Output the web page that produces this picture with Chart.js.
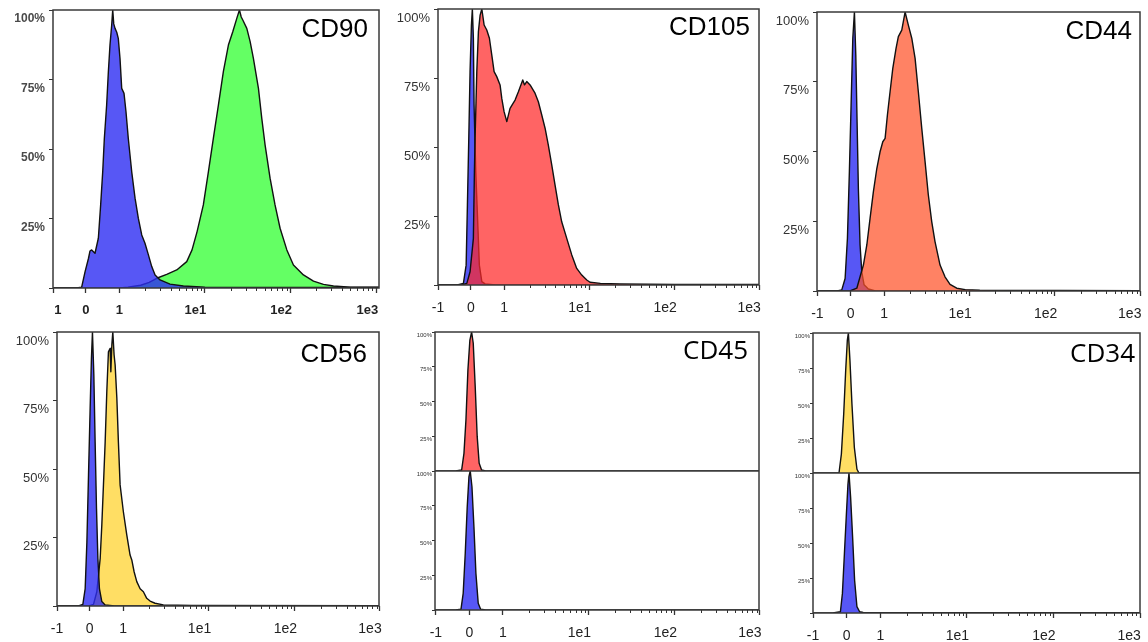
<!DOCTYPE html>
<html>
<head>
<meta charset="utf-8">
<script src="https://cdn.jsdelivr.net/npm/chart.js@4.4.1/dist/chart.umd.min.js"></script>
<style>
  body { margin: 0; background: #fff; }
  #figure { position: relative; width: 1148px; height: 642px; overflow: hidden; background: #fff; }
  #figure canvas { position: absolute; }
</style>
</head>
<body>
<div id="figure"></div>
<script>
// x is in decades of fluorescence (0 = 1, 1 = 1e1 ...), the part below 1 is the linear zone
const xTickLabels = ['-1', '0', '1', '1e1', '1e2', '1e3'];
const cd90TickLabels = ['1', '0', '1', '1e1', '1e2', '1e3'];
const xMajorTicks = [-0.78, -0.39, 0, 1, 2, 3];
const xLabelTicks = [-0.78, -0.39, 0, 0.89, 1.89, 2.875];
const cd90LabelTicks = [-0.717, -0.39, 0, 0.89, 1.89, 2.9];
const yTicks = [0, 25, 50, 75, 100];

// [channel, % of max]
const cd90Control = [[-0.78, 0], [-0.5, 0], [-0.44, 0.3], [-0.4, 5.9], [-0.36, 10.7], [-0.343, 13.3], [-0.323, 13.7],
  [-0.284, 12.5], [-0.245, 17.9], [-0.218, 29.9], [-0.194, 41.8], [-0.175, 53.8], [-0.148, 65.8], [-0.128, 77.8],
  [-0.109, 87.4], [-0.089, 94.6], [-0.077, 100], [-0.065, 95], [-0.05, 93.4], [-0.03, 92], [-0.012, 89.8],
  [0.008, 82.6], [0.028, 71.8], [0.055, 70], [0.078, 63.4], [0.105, 53.8], [0.145, 41.8], [0.184, 32.3],
  [0.222, 25.1], [0.262, 19.1], [0.3, 16.1], [0.34, 11.9], [0.379, 7.7], [0.418, 4.7], [0.476, 2.9],
  [0.593, 1.4], [0.749, 0.7], [1.0, 0.3], [3.04, 0.2]];
const cd90Positive = [[-0.78, 0], [0, 0], [0.1, 0.3], [0.25, 1], [0.35, 2], [0.437, 3.5], [0.554, 4.9], [0.671, 6.5],
  [0.788, 9.5], [0.85, 13.7], [0.909, 20.3], [0.982, 29.9], [1.041, 41.8], [1.099, 53.8], [1.158, 65.8],
  [1.216, 77.8], [1.275, 87.4], [1.326, 92.2], [1.373, 97], [1.404, 100], [1.425, 97.5], [1.443, 96.4],
  [1.49, 93.4], [1.529, 88.6], [1.567, 82.6], [1.626, 71.8], [1.665, 61], [1.704, 51.4], [1.762, 39.5],
  [1.82, 29.9], [1.879, 21.5], [1.958, 13.7], [2.035, 8.3], [2.152, 4.7], [2.269, 2.5], [2.386, 1.3],
  [2.503, 0.7], [2.7, 0.3], [3.04, 0.3]];

const cd105Control = [[-0.78, 0], [-0.55, 0], [-0.477, 0.6], [-0.445, 7.2], [-0.43, 29], [-0.414, 53.1],
  [-0.399, 77.3], [-0.383, 94.2], [-0.372, 100], [-0.36, 89.4], [-0.352, 65.2], [-0.332, 41], [-0.317, 29],
  [-0.29, 7.2], [-0.261, 1.2], [-0.223, 0.4], [-0.1, 0], [3, 0]];
const cd105Positive = [[-0.78, 0], [-0.5, 0], [-0.437, 0.6], [-0.399, 4.8], [-0.36, 16.9], [-0.348, 41],
  [-0.34, 53.2], [-0.32, 77.3], [-0.301, 91.8], [-0.281, 97.8], [-0.261, 100], [-0.234, 94.2], [-0.203, 92.4],
  [-0.172, 89.4], [-0.144, 83.3], [-0.117, 77.3], [-0.086, 75.5], [-0.047, 72.5], [-0.027, 67.6], [0, 62.8],
  [0.032, 59.2], [0.07, 64], [0.1, 65.5], [0.129, 67], [0.168, 70], [0.219, 74.3], [0.24, 72.5], [0.266, 73.7],
  [0.305, 72.5], [0.363, 69.5], [0.402, 66.4], [0.442, 61.6], [0.481, 56.8], [0.519, 50.7], [0.559, 43.5],
  [0.598, 36.2], [0.637, 29], [0.676, 22.9], [0.735, 16.9], [0.794, 10.9], [0.852, 6], [0.911, 3.6],
  [0.97, 1.8], [1.008, 1], [1.13, 0.6], [1.36, 0.4], [2, 0.2], [3, 0.2]];

const cd44Control = [[-0.79, 0], [-0.55, 0], [-0.495, 0.4], [-0.456, 4.5], [-0.429, 18.8], [-0.406, 42.8],
  [-0.386, 66.7], [-0.366, 90.6], [-0.347, 100], [-0.331, 84.6], [-0.316, 60.7], [-0.301, 36.8],
  [-0.281, 16.5], [-0.261, 6.9], [-0.234, 2.2], [-0.184, 0.7], [-0.1, 0], [3, 0]];
const cd44Positive = [[-0.79, 0], [-0.4, 0], [-0.319, 1], [-0.281, 5.1], [-0.242, 9.3], [-0.202, 16.5],
  [-0.164, 26], [-0.125, 35.6], [-0.085, 43.9], [-0.047, 49.9], [-0.015, 53.5], [0.012, 54.7], [0.039, 63.1],
  [0.07, 71.4], [0.102, 79.8], [0.14, 87], [0.167, 91.2], [0.207, 93.5], [0.246, 100], [0.284, 95.3],
  [0.324, 90.6], [0.363, 83.4], [0.401, 71.4], [0.441, 58.3], [0.48, 46.3], [0.518, 34.4], [0.558, 24.8],
  [0.596, 17.7], [0.655, 9.3], [0.713, 5.1], [0.772, 2.4], [0.85, 1], [0.95, 0.5], [1.12, 0.3], [3, 0.1]];

const cd56Control = [[-0.78, 0], [-0.52, 0], [-0.469, 0.6], [-0.442, 6.3], [-0.422, 23.3], [-0.403, 47.8],
  [-0.384, 72.1], [-0.369, 90.4], [-0.357, 100], [-0.341, 84.3], [-0.326, 59.9], [-0.31, 35.6],
  [-0.294, 17.4], [-0.276, 6.3], [-0.248, 1.6], [-0.209, 0.4], [-0.1, 0], [3, 0]];
const cd56Positive = [[-0.78, 0], [-0.4, 0], [-0.345, 0.6], [-0.306, 5.2], [-0.267, 17.4], [-0.248, 29.6],
  [-0.229, 44.2], [-0.209, 59.9], [-0.19, 78.2], [-0.171, 92.8], [-0.151, 94], [-0.143, 85.5], [-0.131, 95.4],
  [-0.12, 100], [-0.105, 91.6], [-0.093, 88], [-0.073, 75.8], [-0.055, 59.9], [-0.035, 44.2], [0.003, 34.4],
  [0.043, 25.9], [0.081, 18.6], [0.101, 16.8], [0.128, 12.5], [0.159, 8.9], [0.198, 6.3], [0.236, 5.2],
  [0.275, 2.8], [0.314, 1.8], [0.372, 1], [0.469, 0.4], [0.8, 0.2], [3, 0.1]];

const cd45Positive = [[-0.8, 0], [-0.55, 0], [-0.48, 0.7], [-0.453, 12.7], [-0.43, 36.7], [-0.407, 72.7],
  [-0.384, 94.2], [-0.364, 100], [-0.345, 91.9], [-0.322, 60.6], [-0.299, 24.7], [-0.276, 5.5],
  [-0.248, 0.7], [-0.2, 0], [3, 0]];
const cd45Control = [[-0.8, 0], [-0.55, 0], [-0.488, 0.5], [-0.462, 12], [-0.438, 40.8], [-0.415, 74.3],
  [-0.395, 95.9], [-0.38, 100], [-0.36, 88.7], [-0.337, 59.9], [-0.314, 26.4], [-0.287, 4.8],
  [-0.259, 0.5], [-0.2, 0], [3, 0]];

const cd34Positive = [[-0.78, 0], [-0.55, 0], [-0.479, 0.2], [-0.452, 13.5], [-0.425, 42.2], [-0.402, 73.4],
  [-0.383, 95], [-0.371, 100], [-0.353, 80.6], [-0.33, 49.4], [-0.302, 18.2], [-0.272, 2.7],
  [-0.249, 0], [3, 0]];
const cd34Control = [[-0.78, 0], [-0.55, 0], [-0.463, 0.9], [-0.44, 14], [-0.417, 42.3], [-0.394, 70.7],
  [-0.376, 92], [-0.364, 100], [-0.345, 82.5], [-0.322, 54.1], [-0.299, 23.4], [-0.272, 4.5],
  [-0.241, 0.9], [-0.2, 0.4], [3, 0.3]];

const BLUE = 'rgba(45,45,243,0.8)';
const GREEN = 'rgba(40,255,40,0.72)';
const RED = 'rgba(255,40,40,0.72)';
const ORANGE = 'rgba(255,82,40,0.72)';
const YELLOW = 'rgba(255,209,40,0.72)';
const FONT = '"Liberation Sans", Arial, sans-serif';
const MARGIN = { left: 50, right: 16, top: 14, bottom: 34 };

const looks = {
  bold:   { yFont: { family: FONT, size: 12, weight: 'bold' }, yColor: '#4a4a4a', yOffset: 9, yTick: 4, yPad: 4,
            xFont: { family: FONT, size: 13, weight: 'bold' } },
  normal: { yFont: { family: FONT, size: 13 }, yColor: '#333', yOffset: 9, yTick: 4, yPad: 4,
            xFont: { family: FONT, size: 14 } },
  small:  { yFont: { family: FONT, size: 6 }, yColor: '#333', yOffset: 3, yTick: 3, yPad: 0,
            xFont: { family: FONT, size: 14 } }
};

const panels = [
  { title: 'CD90', titleFont: '26px ' + FONT, titleRight: 11, titleBase: 27,
    plot: { x: 53, y: 10, w: 326, h: 278 }, range: [-0.775, 3.035], look: 'bold',
    tickLabels: cd90TickLabels, labelTicks: cd90LabelTicks,
    series: [{ data: cd90Control, color: BLUE }, { data: cd90Positive, color: GREEN }] },
  { title: 'CD105', titleFont: '26px ' + FONT, titleRight: 9, titleBase: 26,
    plot: { x: 438, y: 9, w: 321, h: 276 }, range: [-0.775, 2.99], look: 'normal',
    tickLabels: xTickLabels, labelTicks: xLabelTicks,
    series: [{ data: cd105Positive, color: RED }, { data: cd105Control, color: BLUE }] },
  { title: 'CD44', titleFont: '26px ' + FONT, titleRight: 8, titleBase: 27,
    plot: { x: 817, y: 12, w: 323, h: 279 }, range: [-0.785, 2.995], look: 'normal',
    tickLabels: xTickLabels, labelTicks: xLabelTicks,
    series: [{ data: cd44Positive, color: ORANGE }, { data: cd44Control, color: BLUE }] },
  { title: 'CD56', titleFont: '26px ' + FONT, titleRight: 12, titleBase: 30,
    plot: { x: 57, y: 332, w: 322, h: 274 }, range: [-0.77, 2.98], look: 'normal',
    tickLabels: xTickLabels, labelTicks: xLabelTicks,
    series: [{ data: cd56Control, color: BLUE }, { data: cd56Positive, color: YELLOW }] },
  { title: 'CD45', titleFont: '26px "Open Sans", sans-serif', titleRight: 11, titleBase: 27,
    plot: { x: 435, y: 332, w: 324, h: 278 }, range: [-0.79, 2.98], look: 'small', stacked: true,
    tickLabels: xTickLabels, labelTicks: xLabelTicks,
    series: [{ data: cd45Positive, color: RED, axis: 'yTop' }, { data: cd45Control, color: BLUE, axis: 'yBot' }] },
  { title: 'CD34', titleFont: '26px "Open Sans", sans-serif', titleRight: 5, titleBase: 29,
    plot: { x: 813, y: 333, w: 327, h: 280 }, range: [-0.78, 3.0], look: 'small', stacked: true,
    tickLabels: xTickLabels, labelTicks: xLabelTicks,
    series: [{ data: cd34Positive, color: YELLOW, axis: 'yTop' }, { data: cd34Control, color: BLUE, axis: 'yBot' }] }
];

// box around the plot, the divider of the stacked panels and the short log ticks
const framePlugin = {
  id: 'frame',
  afterDatasetsDraw(chart, args, opts) {
    const { ctx, chartArea: a } = chart;
    const x = chart.scales.x;
    ctx.save();
    ctx.strokeStyle = '#333';
    ctx.lineWidth = 1;
    ctx.beginPath();
    (opts.minor || []).forEach(v => {
      const px = Math.round(x.getPixelForValue(v)) + 0.5;
      ctx.moveTo(px, a.bottom);
      ctx.lineTo(px, a.bottom + 3);
    });
    ctx.stroke();
    ctx.strokeStyle = '#3a3a3a';
    ctx.lineWidth = 1.5;
    ctx.strokeRect(a.left, a.top, a.width, a.height);
    const { yTop, yBot } = chart.scales;
    if (yTop && yBot) {
      const y = Math.max(yTop.top, yBot.top);
      ctx.beginPath();
      ctx.moveTo(a.left, y);
      ctx.lineTo(a.right, y);
      ctx.stroke();
    }
    ctx.restore();
  }
};

const panelLabel = {
  id: 'panelLabel',
  afterDraw(chart, args, opts) {
    const { ctx, chartArea: a } = chart;
    ctx.save();
    ctx.font = opts.font;
    ctx.fillStyle = '#000';
    ctx.textAlign = 'right';
    ctx.textBaseline = 'alphabetic';
    ctx.fillText(opts.text, a.right - opts.right, a.top + opts.base);
    ctx.restore();
  }
};

function minorTicks(p) {
  const out = [];
  for (let d = 0; d < 3; d++) {
    for (let k = 2; k <= 9; k++) {
      const v = d + Math.log10(k);
      if (v < p.range[1]) out.push(v);
    }
  }
  return out;
}

function buildXTicks(p) {
  const [min, max] = p.range;
  const ticks = xMajorTicks.map(v => ({ value: Math.min(max, Math.max(min, v)), mark: true }));
  p.labelTicks.forEach((v, i) => {
    const pos = Math.max(min, v);
    const hit = ticks.find(t => Math.abs(t.value - pos) < 0.005);
    if (hit) hit.text = p.tickLabels[i];
    else ticks.push({ value: pos, mark: false, text: p.tickLabels[i] });
  });
  return ticks.sort((a, b) => a.value - b.value);
}

function yAxis(look, extra) {
  return Object.assign({
    type: 'linear', position: 'left', min: 0, max: 100,
    afterBuildTicks: s => { s.ticks = yTicks.map(v => ({ value: v })); },
    afterFit: s => { s.width = MARGIN.left; },
    border: { display: false },
    grid: { drawOnChartArea: false, tickLength: look.yTick, tickColor: '#333', tickWidth: 1 },
    ticks: { padding: look.yPad, labelOffset: look.yOffset, font: look.yFont, color: look.yColor,
             callback: v => v === 0 ? '' : v + '%' }
  }, extra);
}

const figure = document.getElementById('figure');

panels.forEach(p => {
  const look = looks[p.look];
  const canvas = document.createElement('canvas');
  canvas.width = p.plot.w + MARGIN.left + MARGIN.right;
  canvas.height = p.plot.h + MARGIN.top + MARGIN.bottom;
  canvas.style.left = (p.plot.x - MARGIN.left) + 'px';
  canvas.style.top = (p.plot.y - MARGIN.top) + 'px';
  figure.appendChild(canvas);

  const scales = {
    x: {
      type: 'linear', position: 'bottom', min: p.range[0], max: p.range[1],
      afterBuildTicks: s => { s.ticks = buildXTicks(p); },
      afterFit: s => { s.height = MARGIN.bottom; },
      border: { display: false },
      grid: {
        drawOnChartArea: false, tickLength: 5, tickWidth: 1.3,
        tickColor: c => (c.tick && c.tick.mark) ? '#333' : 'rgba(0,0,0,0)'
      },
      ticks: { autoSkip: false, maxRotation: 0, padding: 10, font: look.xFont, color: '#222',
               callback: (v, i, ticks) => ticks[i].text || '' }
    }
  };
  if (p.stacked) {
    scales.yTop = yAxis(look, { stack: 'pair', stackWeight: 1, weight: 1 });
    scales.yBot = yAxis(look, { stack: 'pair', stackWeight: 1, weight: 0 });
  } else {
    scales.y = yAxis(look, {});
  }

  new Chart(canvas, {
    type: 'line',
    data: {
      datasets: p.series.map(s => ({
        data: s.data.map(([x, y]) => ({ x, y })),
        yAxisID: s.axis || 'y',
        borderColor: '#111',
        borderWidth: 1.4,
        borderJoinStyle: 'round',
        backgroundColor: s.color,
        fill: 'origin',
        pointRadius: 0,
        tension: 0
      }))
    },
    options: {
      responsive: false,
      animation: false,
      events: [],
      layout: { padding: { left: 0, right: MARGIN.right, top: MARGIN.top, bottom: 0 } },
      scales,
      plugins: {
        legend: { display: false },
        tooltip: { enabled: false },
        frame: { minor: minorTicks(p) },
        panelLabel: { text: p.title, font: p.titleFont, right: p.titleRight, base: p.titleBase }
      }
    },
    plugins: [framePlugin, panelLabel]
  });
});
</script>
</body>
</html>
